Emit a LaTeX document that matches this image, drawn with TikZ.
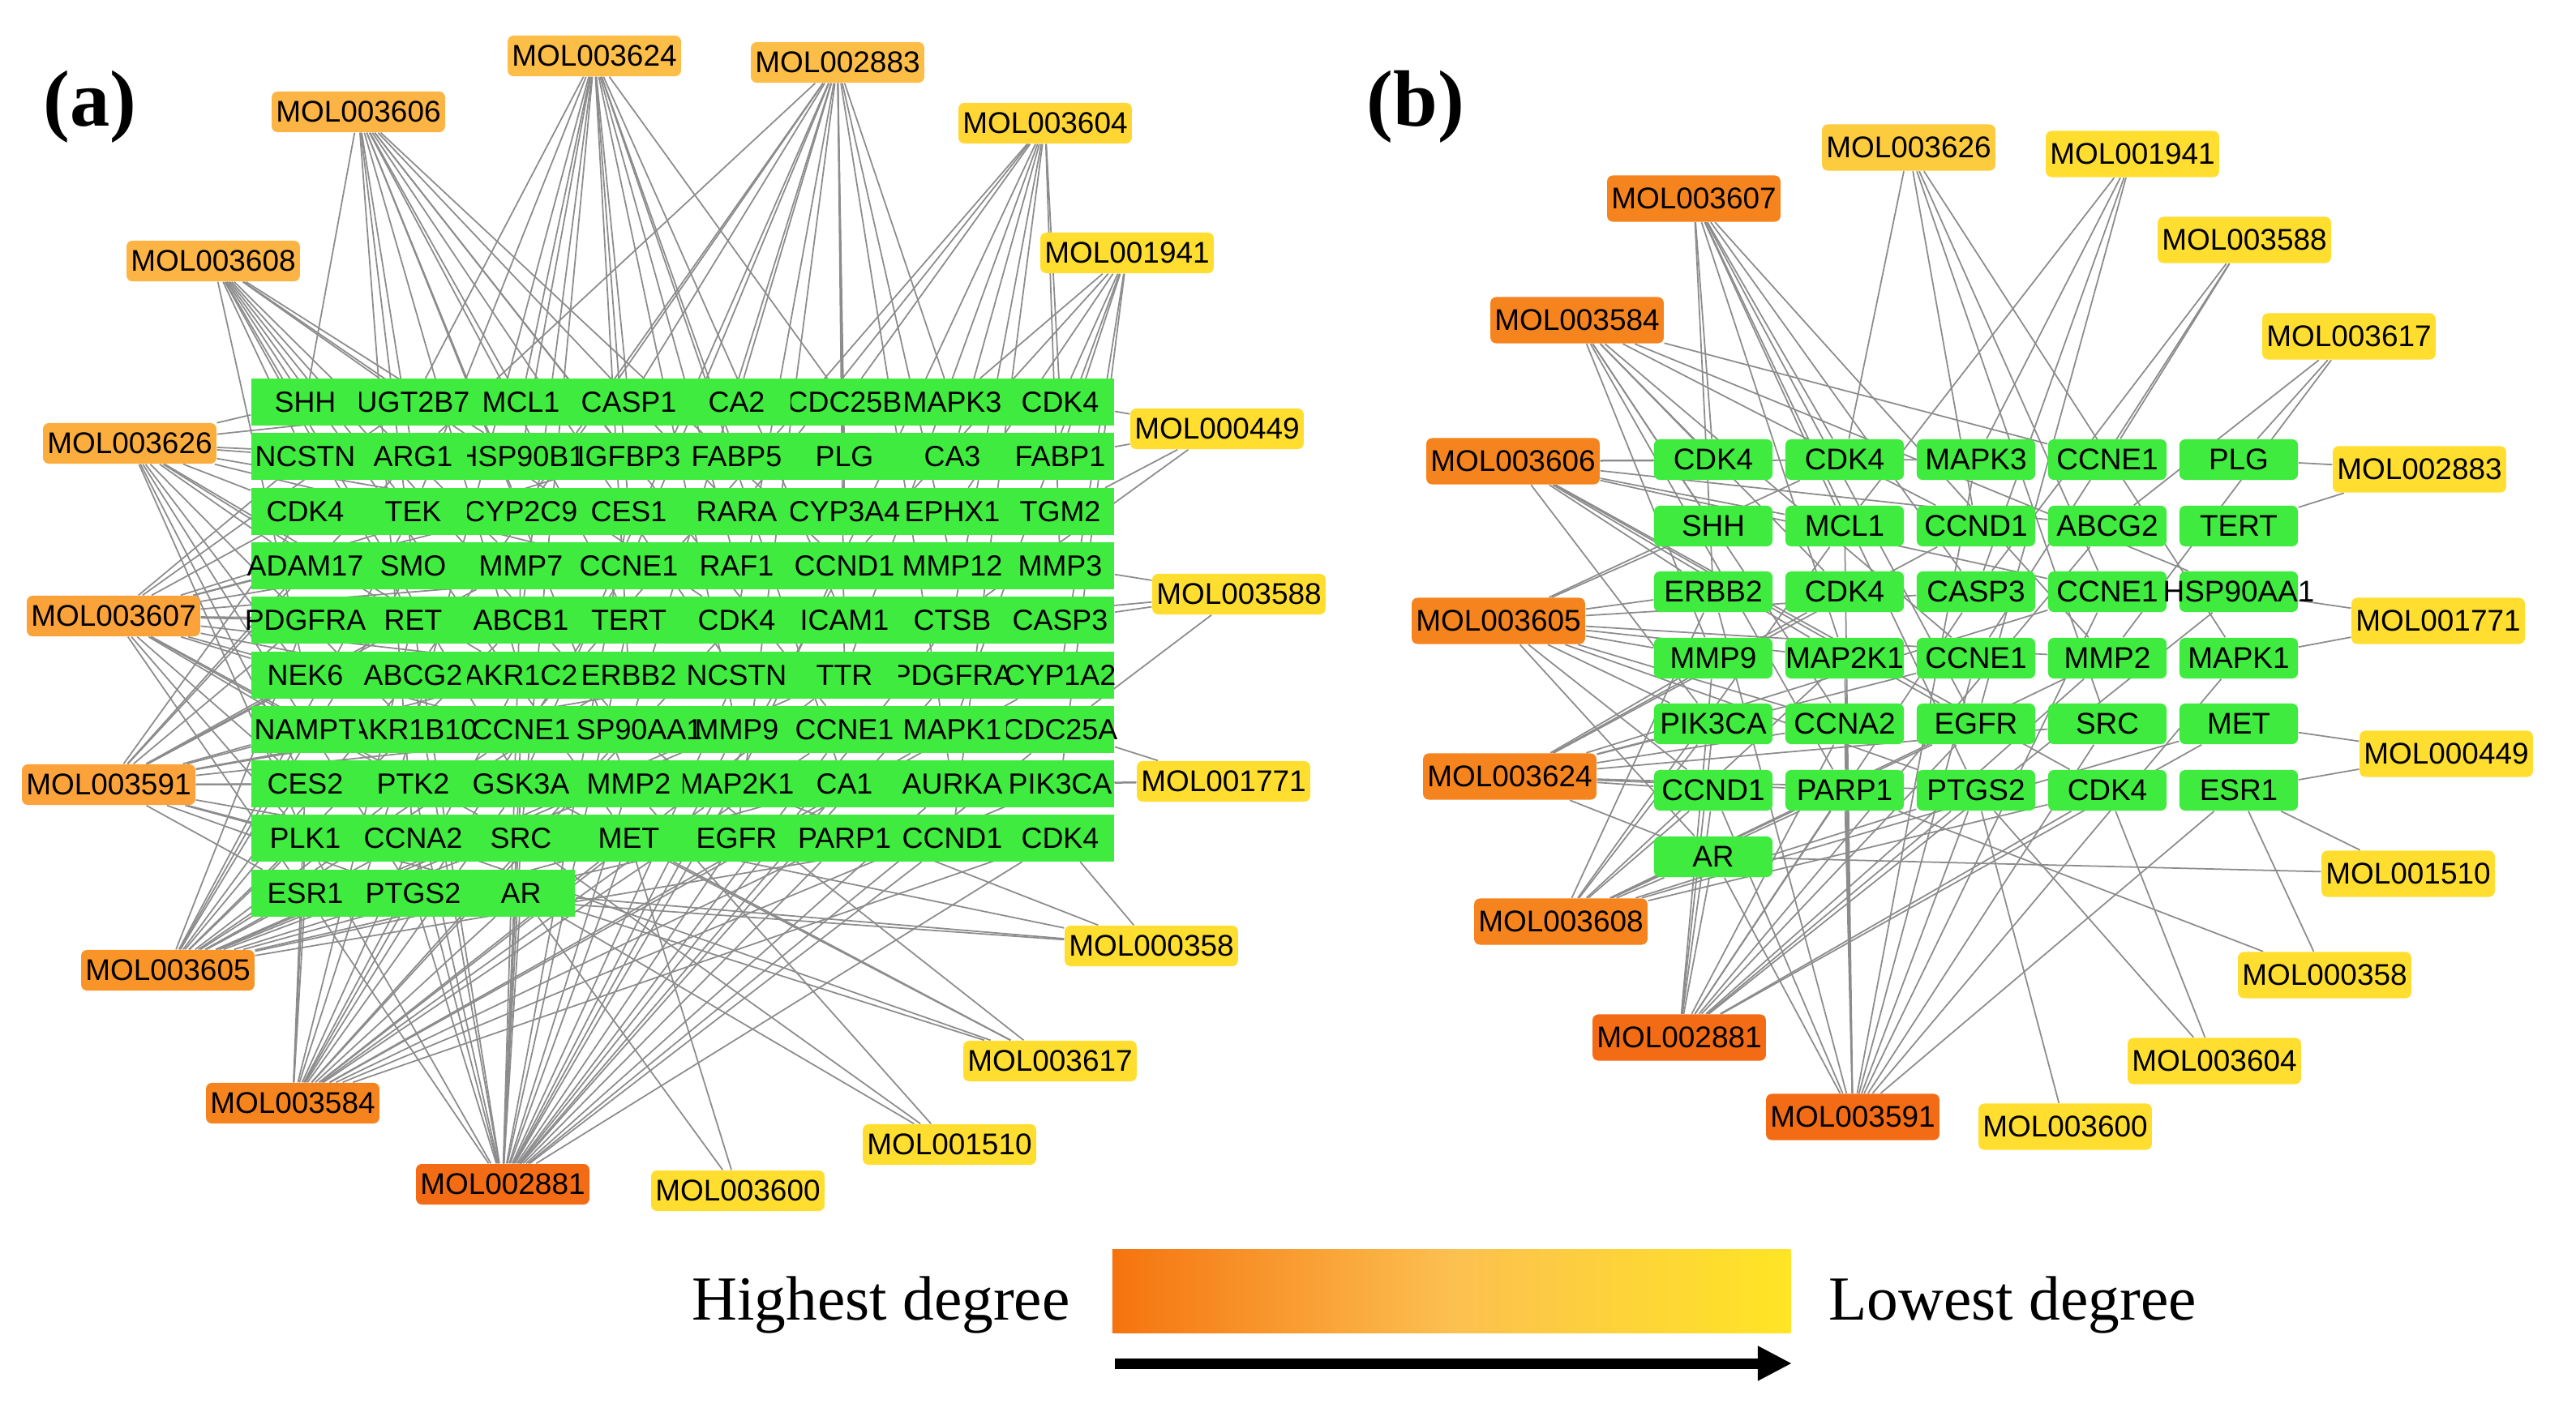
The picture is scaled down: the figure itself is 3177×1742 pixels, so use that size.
\documentclass[tikz,border=0pt]{standalone}
\usepackage{fontspec}
\setmainfont{Liberation Sans}
\newfontfamily\legfont{Liberation Serif}
\usetikzlibrary{arrows.meta,backgrounds}
\definecolor{geneg}{HTML}{3EEB3E}
\definecolor{dega}{HTML}{F36C15}
\definecolor{degb}{HTML}{F6841E}
\definecolor{degc}{HTML}{F99428}
\definecolor{degd}{HTML}{FBA33A}
\definecolor{dege}{HTML}{FBAD3E}
\definecolor{degf}{HTML}{FCB445}
\definecolor{degg}{HTML}{FDBE47}
\definecolor{degh}{HTML}{FFD633}
\definecolor{degi}{HTML}{FFDE2F}
\definecolor{degj}{HTML}{FDCB3E}
\definecolor{barl}{HTML}{F5730F}
\definecolor{barm}{HTML}{FCC050}
\definecolor{barr}{HTML}{FFE524}
\tikzset{
  gene/.style={fill=geneg,inner sep=0pt,minimum width=1.33cm,minimum height=0.57cm,font=\fontsize{10.2}{12}\selectfont},
  geneb/.style={gene,rounded corners=2pt,minimum width=1.46cm,minimum height=0.5cm,font=\fontsize{10.5}{12}\selectfont},
  mol/.style={rounded corners=2pt,inner xsep=1.5pt,inner ysep=0pt,minimum height=0.5cm,font=\fontsize{10.5}{12}\selectfont},
  molb/.style={mol,minimum height=0.57cm},
  edge/.style={draw=black!45,line width=0.5pt}
}
\begin{document}
\begin{tikzpicture}[x=0.01cm,y=-0.01cm]
\useasboundingbox (0,0) rectangle (3177,1742);

\node[font=\legfont\fontsize{28}{30}\selectfont\bfseries] (laba) at (111,132) {(a)};
\node[font=\legfont\fontsize{28}{30}\selectfont\bfseries] (labb) at (1746,132) {(b)};

\foreach \c/\lbl in {8/CDK4,7/MAPK3,6/CDC25B,5/CA2,4/CASP1,3/MCL1,2/UGT2B7,1/SHH}
  \node[gene] (ta1-\c) at ({243.5+133*\c},496) {\makebox[0pt]{\lbl}};
\foreach \c/\lbl in {8/FABP1,7/CA3,6/PLG,5/FABP5,4/IGFBP3,3/HSP90B1,2/ARG1,1/NCSTN}
  \node[gene] (ta2-\c) at ({243.5+133*\c},563) {\makebox[0pt]{\lbl}};
\foreach \c/\lbl in {8/TGM2,7/EPHX1,6/CYP3A4,5/RARA,4/CES1,3/CYP2C9,2/TEK,1/CDK4}
  \node[gene] (ta3-\c) at ({243.5+133*\c},631) {\makebox[0pt]{\lbl}};
\foreach \c/\lbl in {8/MMP3,7/MMP12,6/CCND1,5/RAF1,4/CCNE1,3/MMP7,2/SMO,1/ADAM17}
  \node[gene] (ta4-\c) at ({243.5+133*\c},698) {\makebox[0pt]{\lbl}};
\foreach \c/\lbl in {8/CASP3,7/CTSB,6/ICAM1,5/CDK4,4/TERT,3/ABCB1,2/RET,1/PDGFRA}
  \node[gene] (ta5-\c) at ({243.5+133*\c},765) {\makebox[0pt]{\lbl}};
\foreach \c/\lbl in {8/CYP1A2,7/PDGFRA,6/TTR,5/NCSTN,4/ERBB2,3/AKR1C2,2/ABCG2,1/NEK6}
  \node[gene] (ta6-\c) at ({243.5+133*\c},833) {\makebox[0pt]{\lbl}};
\foreach \c/\lbl in {8/CDC25A,7/MAPK1,6/CCNE1,5/MMP9,4/HSP90AA1,3/CCNE1,2/AKR1B10,1/NAMPT}
  \node[gene] (ta7-\c) at ({243.5+133*\c},900) {\makebox[0pt]{\lbl}};
\foreach \c/\lbl in {8/PIK3CA,7/AURKA,6/CA1,5/MAP2K1,4/MMP2,3/GSK3A,2/PTK2,1/CES2}
  \node[gene] (ta8-\c) at ({243.5+133*\c},967) {\makebox[0pt]{\lbl}};
\foreach \c/\lbl in {8/CDK4,7/CCND1,6/PARP1,5/EGFR,4/MET,3/SRC,2/CCNA2,1/PLK1}
  \node[gene] (ta9-\c) at ({243.5+133*\c},1034) {\makebox[0pt]{\lbl}};
\foreach \c/\lbl in {3/AR,2/PTGS2,1/ESR1}
  \node[gene] (ta10-\c) at ({243.5+133*\c},1102) {\makebox[0pt]{\lbl}};

\node[mol,fill=degg] (ma3624) at (733,69) {MOL003624};
\node[mol,fill=degg] (ma2883) at (1033,77) {MOL002883};
\node[mol,fill=degf] (ma3606) at (442,138) {MOL003606};
\node[mol,fill=degh] (ma3604) at (1289,152) {MOL003604};
\node[mol,fill=degf] (ma3608) at (263,322) {MOL003608};
\node[mol,fill=degi] (ma1941) at (1390,312) {MOL001941};
\node[mol,fill=dege] (ma3626) at (160,547) {MOL003626};
\node[mol,fill=degi] (ma0449) at (1501,529) {MOL000449};
\node[mol,fill=degd] (ma3607) at (140,760) {MOL003607};
\node[mol,fill=degi] (ma3588) at (1528,733) {MOL003588};
\node[mol,fill=degd] (ma3591) at (134,968) {MOL003591};
\node[mol,fill=degi] (ma1771) at (1509,964) {MOL001771};
\node[mol,fill=degc] (ma3605) at (207,1197) {MOL003605};
\node[mol,fill=degi] (ma0358) at (1420,1167) {MOL000358};
\node[mol,fill=degb] (ma3584) at (361,1361) {MOL003584};
\node[mol,fill=degi] (ma3617) at (1295,1309) {MOL003617};
\node[mol,fill=dega] (ma2881) at (620,1461) {MOL002881};
\node[mol,fill=degi] (ma1510) at (1171,1412) {MOL001510};
\node[mol,fill=degi] (ma3600) at (910,1469) {MOL003600};

\begin{scope}[on background layer]
\foreach \t in {1-2,1-3,1-4,1-6,2-3,2-5,3-2,3-4,4-5,5-3,5-6,6-4,7-2,7-5,8-6,9-3} \draw[edge] (ma3624) -- (ta\t);
\foreach \t in {1-4,1-5,1-7,2-2,2-6,3-3,3-6,4-4,4-7,5-5,6-2,6-6,7-4,8-3,8-7,9-5} \draw[edge] (ma2883) -- (ta\t);
\foreach \t in {1-1,1-3,2-2,2-4,3-3,3-5,4-2,4-6,5-4,6-3,6-5,7-6,8-4,9-2} \draw[edge] (ma3606) -- (ta\t);
\foreach \t in {1-6,1-8,2-7,3-5,4-8,5-7,6-6,7-3,8-5,9-7} \draw[edge] (ma3604) -- (ta\t);
\foreach \t in {1-1,1-2,2-1,2-3,3-2,4-3,5-2,5-5,6-1,7-4,8-3,9-4} \draw[edge] (ma3608) -- (ta\t);
\foreach \t in {1-7,1-8,2-8,3-7,4-6,6-8,7-7,8-8} \draw[edge] (ma1941) -- (ta\t);
\foreach \t in {1-1,1-3,2-1,2-2,3-1,3-3,4-1,4-4,5-2,6-1,6-3,7-2,8-1,9-1,10-2} \draw[edge] (ma3626) -- (ta\t);
\foreach \t in {1-8,2-8,3-8,5-7} \draw[edge] (ma0449) -- (ta\t);
\foreach \t in {1-2,2-1,2-4,3-1,3-3,4-1,4-2,4-5,5-1,5-3,6-1,6-2,6-4,7-1,7-3,8-1,8-2,9-1,9-3,10-1} \draw[edge] (ma3607) -- (ta\t);
\foreach \t in {4-8,5-8,5-7,7-8} \draw[edge] (ma3588) -- (ta\t);
\foreach \t in {2-2,3-1,4-1,4-3,5-1,5-2,6-1,6-3,6-5,7-1,7-2,7-4,8-1,8-2,8-3,9-1,9-2,10-1,10-2,10-3} \draw[edge] (ma3591) -- (ta\t);
\foreach \t in {7-8,8-8,8-7} \draw[edge] (ma1771) -- (ta\t);
\foreach \t in {3-2,4-2,5-1,5-3,6-2,6-4,6-6,7-1,7-3,7-5,8-1,8-2,8-4,8-6,9-1,9-2,9-3,9-5,9-7,10-1,10-2,10-3} \draw[edge] (ma3605) -- (ta\t);
\foreach \t in {9-8,9-4,10-3,8-5,10-2} \draw[edge] (ma0358) -- (ta\t);
\foreach \t in {4-4,5-2,5-5,6-3,6-6,6-8,7-2,7-4,7-6,7-7,8-1,8-3,8-5,8-8,9-1,9-2,9-4,9-6,9-8,10-1,10-2,10-3} \draw[edge] (ma3584) -- (ta\t);
\foreach \t in {8-3,9-4,10-3,7-4,9-2} \draw[edge] (ma3617) -- (ta\t);
\foreach \t in {3-4,4-3,4-6,5-2,5-4,5-7,6-2,6-5,6-7,7-3,7-5,7-6,7-8,8-2,8-3,8-4,8-5,8-6,8-7,9-1,9-2,9-3,9-4,9-5,9-6,9-7,9-8,10-1,10-2,10-3} \draw[edge] (ma2881) -- (ta\t);
\foreach \t in {9-3,10-3,8-4} \draw[edge] (ma1510) -- (ta\t);
\foreach \t in {10-3,9-4} \draw[edge] (ma3600) -- (ta\t);
\end{scope}

\foreach \c/\lbl in {1/CDK4,2/CDK4,3/MAPK3,4/CCNE1,5/PLG}
  \node[geneb] (tb1-\c) at ({1951+162*\c},567) {\makebox[0pt]{\lbl}};
\foreach \c/\lbl in {1/SHH,2/MCL1,3/CCND1,4/ABCG2,5/TERT}
  \node[geneb] (tb2-\c) at ({1951+162*\c},649) {\makebox[0pt]{\lbl}};
\foreach \c/\lbl in {1/ERBB2,2/CDK4,3/CASP3,4/CCNE1,5/HSP90AA1}
  \node[geneb] (tb3-\c) at ({1951+162*\c},730) {\makebox[0pt]{\lbl}};
\foreach \c/\lbl in {1/MMP9,2/MAP2K1,3/CCNE1,4/MMP2,5/MAPK1}
  \node[geneb] (tb4-\c) at ({1951+162*\c},812) {\makebox[0pt]{\lbl}};
\foreach \c/\lbl in {1/PIK3CA,2/CCNA2,3/EGFR,4/SRC,5/MET}
  \node[geneb] (tb5-\c) at ({1951+162*\c},893) {\makebox[0pt]{\lbl}};
\foreach \c/\lbl in {1/CCND1,2/PARP1,3/PTGS2,4/CDK4,5/ESR1}
  \node[geneb] (tb6-\c) at ({1951+162*\c},975) {\makebox[0pt]{\lbl}};
\node[geneb] (tb7-1) at (2113,1057) {AR};

\node[molb,fill=degj] (mb3626) at (2354,182) {MOL003626};
\node[molb,fill=degi] (mb1941) at (2630,190) {MOL001941};
\node[molb,fill=degb] (mb3607) at (2089,245) {MOL003607};
\node[molb,fill=degi] (mb3588) at (2768,296) {MOL003588};
\node[molb,fill=degb] (mb3584) at (1945,395) {MOL003584};
\node[molb,fill=degi] (mb3617) at (2897,415) {MOL003617};
\node[molb,fill=degb] (mb3606) at (1866,569) {MOL003606};
\node[molb,fill=degi] (mb2883) at (2984,579) {MOL002883};
\node[molb,fill=degb] (mb3605) at (1848,766) {MOL003605};
\node[molb,fill=degi] (mb1771) at (3007,766) {MOL001771};
\node[molb,fill=degb] (mb3624) at (1862,958) {MOL003624};
\node[molb,fill=degi] (mb0449) at (3017,930) {MOL000449};
\node[molb,fill=degb] (mb3608) at (1925,1137) {MOL003608};
\node[molb,fill=degi] (mb1510) at (2970,1078) {MOL001510};
\node[molb,fill=dega] (mb2881) at (2071,1280) {MOL002881};
\node[molb,fill=degi] (mb0358) at (2867,1203) {MOL000358};
\node[molb,fill=dega] (mb3591) at (2285,1378) {MOL003591};
\node[molb,fill=degi] (mb3604) at (2731,1309) {MOL003604};
\node[molb,fill=degi] (mb3600) at (2547,1390) {MOL003600};

\begin{scope}[on background layer]
\foreach \t in {1-2,2-3,3-4,4-5,5-4} \draw[edge] (mb3626) -- (tb\t);
\foreach \t in {1-3,2-2,3-3,5-3} \draw[edge] (mb1941) -- (tb\t);
\foreach \t in {1-1,1-2,2-2,3-1,3-3,4-2,4-4,5-3,6-3} \draw[edge] (mb3607) -- (tb\t);
\foreach \t in {1-4,3-3,4-3} \draw[edge] (mb3588) -- (tb\t);
\foreach \t in {1-1,1-4,2-1,2-3,3-2,3-5,4-1,4-3,5-2,6-2} \draw[edge] (mb3584) -- (tb\t);
\foreach \t in {1-5,2-4,4-4} \draw[edge] (mb3617) -- (tb\t);
\foreach \t in {1-1,1-3,2-2,2-4,3-1,3-4,4-2,5-1,5-3,6-4} \draw[edge] (mb3606) -- (tb\t);
\foreach \t in {1-5,2-5} \draw[edge] (mb2883) -- (tb\t);
\foreach \t in {1-2,2-1,3-1,3-3,4-1,4-2,4-4,5-1,5-2,6-1,6-3,7-1} \draw[edge] (mb3605) -- (tb\t);
\foreach \t in {3-5,4-5} \draw[edge] (mb1771) -- (tb\t);
\foreach \t in {2-3,3-2,3-4,4-1,4-3,5-1,5-2,5-4,6-1,6-2,6-3,7-1} \draw[edge] (mb3624) -- (tb\t);
\foreach \t in {6-5,5-5} \draw[edge] (mb0449) -- (tb\t);
\foreach \t in {2-2,3-1,4-2,4-4,5-1,5-3,5-5,6-1,6-2,6-3,6-4,7-1} \draw[edge] (mb3608) -- (tb\t);
\foreach \t in {7-1,6-5} \draw[edge] (mb1510) -- (tb\t);
\foreach \t in {2-4,3-3,3-5,4-1,4-4,5-1,5-2,5-3,5-5,6-1,6-2,6-3,6-4,7-1} \draw[edge] (mb2881) -- (tb\t);
\foreach \t in {6-5,6-2} \draw[edge] (mb0358) -- (tb\t);
\foreach \t in {1-3,2-2,3-1,3-4,4-2,4-3,4-5,5-2,5-4,6-1,6-2,6-3,6-5,7-1} \draw[edge] (mb3591) -- (tb\t);
\foreach \t in {6-3,6-4} \draw[edge] (mb3604) -- (tb\t);
\foreach \t in {6-3} \draw[edge] (mb3600) -- (tb\t);
\end{scope}

\node[minimum width=8.36cm,minimum height=1.03cm,inner sep=0pt,left color=barl,right color=barr,middle color=barm] (bar) at (1790,1593) {};
\node[anchor=base east,font=\legfont\fontsize{22}{24}\selectfont] (high) at (1332,1628) {Highest degree};
\node[anchor=base west,font=\legfont\fontsize{22}{24}\selectfont] (low) at (2243,1628) {Lowest degree};
\coordinate (arrs) at (1375,1682);
\coordinate (arre) at (2210,1682);
\draw[line width=3.7pt,-{Triangle[length=0.42cm,width=0.4cm]}] (arrs) -- (arre);
\end{tikzpicture}
\end{document}
